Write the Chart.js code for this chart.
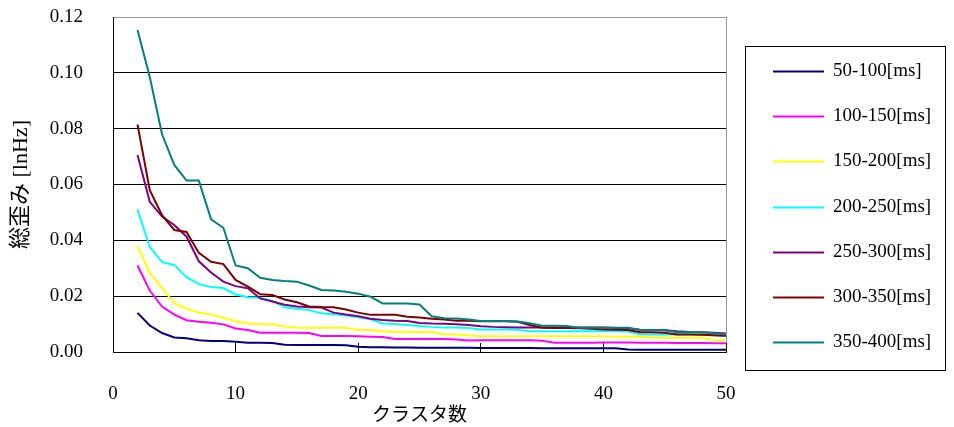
<!DOCTYPE html>
<html>
<head>
<meta charset="utf-8">
<script src="https://cdn.jsdelivr.net/npm/chart.js@4"></script>
<style>
  body { margin: 0; background: #fff; }
  #wrap { width: 954px; height: 427px; }
</style>
</head>
<body>
<div id="wrap"><canvas id="chart" width="954" height="427"></canvas></div>
<script>
const clusters = [2, 3, 4, 5, 6, 7, 8, 9, 10, 11,
    12, 13, 14, 15, 16, 17, 18, 19, 20, 21,
    22, 23, 24, 25, 26, 27, 28, 29, 30, 31,
    32, 33, 34, 35, 36, 37, 38, 39, 40, 41,
    42, 43, 44, 45, 46, 47, 48, 49, 50];

const seriesNames = ['50-100[ms]', '100-150[ms]', '150-200[ms]', '200-250[ms]', '250-300[ms]', '300-350[ms]', '350-400[ms]'];
const seriesColors = ['#000080', '#ff00ff', '#ffff00', '#00ffff', '#800080', '#800000', '#008080'];

const d50_100 = [0.0140, 0.0095, 0.0068, 0.0052, 0.0049, 0.0042, 0.0039, 0.0039, 0.0037, 0.0033,
    0.0033, 0.0032, 0.0026, 0.0025, 0.0025, 0.0025, 0.0025, 0.0024, 0.0019, 0.0017,
    0.0017, 0.0016, 0.0016, 0.0015, 0.0015, 0.0015, 0.0015, 0.0015, 0.0014, 0.0014,
    0.0014, 0.0014, 0.0014, 0.0013, 0.0013, 0.0013, 0.0013, 0.0013, 0.0013, 0.0013,
    0.0009, 0.0008, 0.0008, 0.0008, 0.0008, 0.0008, 0.0008, 0.0008, 0.0008];
const d100_150 = [0.0310, 0.0220, 0.0163, 0.0134, 0.0114, 0.0108, 0.0105, 0.0099, 0.0084, 0.0079,
    0.0069, 0.0069, 0.0069, 0.0069, 0.0068, 0.0057, 0.0057, 0.0057, 0.0056, 0.0055,
    0.0054, 0.0047, 0.0047, 0.0047, 0.0047, 0.0047, 0.0045, 0.0041, 0.0042, 0.0042,
    0.0042, 0.0042, 0.0042, 0.0040, 0.0033, 0.0033, 0.0033, 0.0033, 0.0034, 0.0034,
    0.0034, 0.0033, 0.0033, 0.0033, 0.0032, 0.0032, 0.0032, 0.0031, 0.0031];
const d150_200 = [0.0380, 0.0283, 0.0230, 0.0174, 0.0156, 0.0141, 0.0134, 0.0123, 0.0110, 0.0102,
    0.0100, 0.0099, 0.0091, 0.0087, 0.0087, 0.0087, 0.0087, 0.0087, 0.0079, 0.0079,
    0.0074, 0.0072, 0.0072, 0.0072, 0.0072, 0.0064, 0.0063, 0.0059, 0.0056, 0.0056,
    0.0056, 0.0056, 0.0056, 0.0056, 0.0056, 0.0056, 0.0056, 0.0056, 0.0056, 0.0055,
    0.0055, 0.0055, 0.0051, 0.0051, 0.0051, 0.0051, 0.0051, 0.0043, 0.0041];
const d200_250 = [0.0510, 0.0376, 0.0322, 0.0312, 0.0268, 0.0243, 0.0233, 0.0229, 0.0206, 0.0196,
    0.0194, 0.0183, 0.0160, 0.0155, 0.0150, 0.0139, 0.0135, 0.0131, 0.0124, 0.0117,
    0.0102, 0.0100, 0.0097, 0.0093, 0.0090, 0.0088, 0.0088, 0.0086, 0.0081, 0.0081,
    0.0081, 0.0080, 0.0074, 0.0074, 0.0074, 0.0074, 0.0074, 0.0074, 0.0074, 0.0074,
    0.0073, 0.0064, 0.0063, 0.0063, 0.0063, 0.0063, 0.0062, 0.0060, 0.0056];
const d250_300 = [0.0706, 0.0538, 0.0485, 0.0455, 0.0413, 0.0325, 0.0285, 0.0252, 0.0236, 0.0228,
    0.0192, 0.0181, 0.0169, 0.0163, 0.0160, 0.0159, 0.0141, 0.0134, 0.0128, 0.0119,
    0.0115, 0.0112, 0.0111, 0.0104, 0.0102, 0.0101, 0.0099, 0.0097, 0.0092, 0.0090,
    0.0089, 0.0088, 0.0088, 0.0088, 0.0088, 0.0088, 0.0088, 0.0088, 0.0088, 0.0086,
    0.0085, 0.0080, 0.0079, 0.0078, 0.0074, 0.0072, 0.0071, 0.0069, 0.0066];
const d300_350 = [0.0815, 0.0580, 0.0490, 0.0437, 0.0430, 0.0355, 0.0323, 0.0315, 0.0258, 0.0234,
    0.0207, 0.0204, 0.0188, 0.0178, 0.0163, 0.0161, 0.0160, 0.0152, 0.0141, 0.0133,
    0.0133, 0.0133, 0.0126, 0.0124, 0.0119, 0.0116, 0.0112, 0.0112, 0.0110, 0.0110,
    0.0110, 0.0108, 0.0097, 0.0087, 0.0086, 0.0086, 0.0085, 0.0083, 0.0081, 0.0080,
    0.0079, 0.0071, 0.0071, 0.0069, 0.0063, 0.0063, 0.0062, 0.0060, 0.0058];
const d350_400 = [0.1153, 0.0985, 0.0780, 0.0670, 0.0614, 0.0614, 0.0475, 0.0445, 0.0310, 0.0300,
    0.0266, 0.0258, 0.0254, 0.0252, 0.0238, 0.0222, 0.0220, 0.0216, 0.0209, 0.0198,
    0.0174, 0.0174, 0.0174, 0.0170, 0.0128, 0.0121, 0.0120, 0.0116, 0.0111, 0.0111,
    0.0111, 0.0109, 0.0103, 0.0094, 0.0094, 0.0093, 0.0087, 0.0087, 0.0087, 0.0087,
    0.0087, 0.0079, 0.0079, 0.0079, 0.0071, 0.0071, 0.0071, 0.0067, 0.0063];

const yTicks = [0, 0.02, 0.04, 0.06, 0.08, 0.10, 0.12];
const xTicks = [0, 10, 20, 30, 40, 50];

const allSeries = [d50_100, d100_150, d150_200, d200_250, d250_300, d300_350, d350_400];
const serif = '"Liberation Serif", "Noto Sans CJK JP"';

// legend box drawn by hand, like the Excel one
const boxLegend = {
    id: 'boxLegend',
    afterDraw(chart) {
        const c = chart.ctx;
        c.save();
        c.strokeStyle = '#000';
        c.lineWidth = 1;
        c.strokeRect(745.5, 46.5, 200, 324);
        c.font = '19px ' + serif;
        c.textBaseline = 'middle';
        c.fillStyle = '#000';
        chart.data.datasets.forEach((ds, i) => {
            const y = Math.round(71 + i * 45.2) + 0.5;
            c.strokeStyle = ds.borderColor;
            c.lineWidth = 2;
            c.beginPath();
            c.moveTo(773, y);
            c.lineTo(824, y);
            c.stroke();
            c.fillText(ds.label, 833, y);
        });
        c.restore();
    }
};

function noPad(s) {
    s.paddingTop = 0;
    s.paddingBottom = 0;
    s.paddingLeft = 0;
    s.paddingRight = 0;
}

const ctx = document.getElementById('chart').getContext('2d');
new Chart(ctx, {
    type: 'line',
    data: {
        datasets: allSeries.map((vals, i) => ({
            label: seriesNames[i],
            data: clusters.map((x, j) => ({ x: x, y: vals[j] })),
            borderColor: seriesColors[i],
            borderWidth: 2,
            pointRadius: 0,
            tension: 0,
            fill: false,
            order: allSeries.length - i
        }))
    },
    options: {
        responsive: false,
        animation: false,
        layout: { padding: { top: 17, right: 228, left: 0, bottom: 0 } },
        plugins: { legend: { display: false }, tooltip: { enabled: false } },
        scales: {
            x: {
                type: 'linear',
                min: 0,
                max: 50,
                afterBuildTicks: s => { s.ticks = xTicks.map(v => ({ value: v })); },
                afterFit: s => { s.height = 75; noPad(s); },
                ticks: { padding: 40, color: '#000', font: { family: serif, size: 19 } },
                grid: {
                    tickLength: -9,
                    tickColor: '#000',
                    color: c => (c.tick && c.tick.value === 50) ? '#999' : 'rgba(0,0,0,0)'
                },
                border: { color: '#000', width: 1 },
                title: { display: true, text: 'クラスタ数', color: '#000', padding: 0, font: { family: serif, size: 19 } }
            },
            y: {
                min: 0,
                max: 0.12,
                afterBuildTicks: s => { s.ticks = yTicks.map(v => ({ value: v })); },
                afterFit: s => { s.width = 113; noPad(s); },
                ticks: { padding: 30, color: '#000', font: { family: serif, size: 19 }, callback: v => v.toFixed(2) },
                grid: {
                    drawTicks: false,
                    color: c => (c.tick && c.tick.value > 0.119) ? '#999' : '#000'
                },
                border: { color: '#000', width: 1 },
                title: { display: true, text: '総歪み [lnHz]', color: '#000', padding: { top: 8, bottom: 0 }, font: { family: serif, size: 22 } }
            }
        }
    },
    plugins: [boxLegend]
});
</script>
</body>
</html>
